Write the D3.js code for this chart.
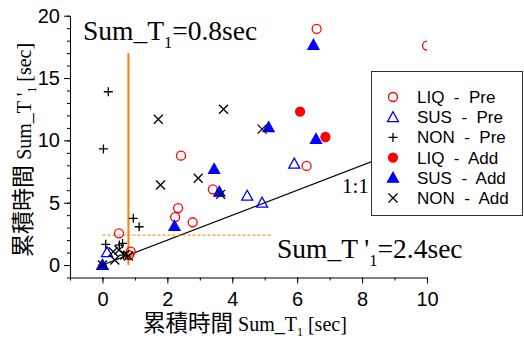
<!DOCTYPE html>
<html>
<head>
<meta charset="utf-8">
<script src="https://cdn.jsdelivr.net/npm/d3@7"></script>
<style>
  body { margin: 0; background: #fff; }
  svg { display: block; }
</style>
</head>
<body>
<div id="chart"></div>
<script>
// ===== data =====
const liqPre = [[6.60, 18.94], [10.0, 17.6], [2.42, 8.77], [3.40, 6.07], [2.33, 4.57],
                [2.24, 3.85], [2.78, 3.43], [6.29, 7.95], [0.51, 2.54], [0.87, 1.07], [0.82, 0.8]];
const susPre = [[5.91, 8.13], [4.46, 5.56], [4.92, 5.0], [0.14, 1.02], [0, 0]];
const nonPre = [[0.18, 13.9], [0.03, 9.31], [0.95, 3.75], [1.13, 3.07], [0.10, 1.66],
                [0.52, 1.6], [0.62, 1.74], [0.65, 0.8], [0, 0]];
const liqAdd = [[6.09, 12.31], [6.87, 10.27]];
const susAdd = [[6.50, 17.66], [5.12, 11.05], [6.58, 10.11], [3.44, 7.70], [3.60, 5.88],
                [2.22, 3.13], [0, 0]];
const nonAdd = [[1.72, 11.69], [3.73, 12.5], [2.95, 6.96], [1.79, 6.42], [3.64, 5.67],
                [4.92, 10.9], [0.38, 0.4], [0.51, 1.2], [0.69, 0.8], [0.8, 0.72], [0.33, 1.07], [0, 0]];

const xTicks = [0, 2, 4, 6, 8, 10];
const yTicks = [0, 5, 10, 15, 20];

const series = [
    {name: "LIQ  -  Pre", data: liqPre, shape: "circle", fill: "none", color: "#ff0000"},
    {name: "SUS  -  Pre", data: susPre, shape: "triangle", fill: "none", color: "#0000ff"},
    {name: "NON  -  Pre", data: nonPre, shape: "plus", fill: "none", color: "#000"},
    {name: "LIQ  -  Add", data: liqAdd, shape: "circle", fill: "#ff0000", color: "#ff0000"},
    {name: "SUS  -  Add", data: susAdd, shape: "triangle", fill: "#0000ff", color: "#0000ff"},
    {name: "NON  -  Add", data: nonAdd, shape: "cross", fill: "none", color: "#000"}
];

// ===== layout =====
const W = 524, H = 341;
const SERIF = "'Liberation Serif', 'Times New Roman', serif";
const SANS = "'Liberation Sans', Arial, sans-serif";
const CJK = "'Noto Sans CJK JP', 'Noto Sans CJK SC', sans-serif";

const svg = d3.select("#chart").append("svg")
    .attr("width", W)
    .attr("height", H);

const x = d3.scaleLinear().domain([-1, 10]).range([70, 427]);
const y = d3.scaleLinear().domain([-1, 20]).range([277.5, 15.7]);

svg.append("defs").append("clipPath")
    .attr("id", "plot-clip")
    .append("rect")
    .attr("x", x(-1)).attr("y", y(20))
    .attr("width", x(10) - x(-1)).attr("height", y(-1) - y(20));

// minor ticks
svg.append("g")
    .attr("transform", `translate(0,${y(-1)})`)
    .call(d3.axisBottom(x).tickValues(d3.range(-1, 11, 1)).tickSize(3).tickFormat(""))
    .call(g => g.select(".domain").remove());
svg.append("g")
    .attr("transform", `translate(${x(-1)},0)`)
    .call(d3.axisLeft(y).tickValues(d3.range(-1, 21, 1)).tickSize(3).tickFormat(""))
    .call(g => g.select(".domain").remove());

// major axes
const xAxis = svg.append("g")
    .attr("transform", `translate(0,${y(-1)})`)
    .call(d3.axisBottom(x).tickValues(xTicks).tickSize(6).tickSizeOuter(0).tickPadding(8));
const yAxis = svg.append("g")
    .attr("transform", `translate(${x(-1)},0)`)
    .call(d3.axisLeft(y).tickValues(yTicks).tickSize(6).tickSizeOuter(0).tickPadding(4));

[xAxis, yAxis].forEach(g => {
    g.selectAll("text").style("font-family", SANS).style("font-size", "20px").attr("fill", "#000");
});
svg.selectAll(".tick line, .domain").attr("stroke", "#000").attr("stroke-width", 1);

const plot = svg.append("g").attr("clip-path", "url(#plot-clip)");

// 1:1 line
plot.append("line")
    .attr("x1", x(0)).attr("y1", y(0))
    .attr("x2", x(10)).attr("y2", y(10))
    .attr("stroke", "#000").attr("stroke-width", 1.2);

// orange threshold lines
plot.append("line")
    .attr("x1", x(0.8)).attr("y1", y(0))
    .attr("x2", x(0.8)).attr("y2", y(17))
    .attr("stroke", "#ff7f00").attr("stroke-width", 2);
plot.append("line")
    .attr("x1", x(0)).attr("y1", y(2.4))
    .attr("x2", x(5.2)).attr("y2", y(2.4))
    .attr("stroke", "#ff7f00").attr("stroke-width", 1)
    .attr("stroke-dasharray", "3,2");

// markers
function drawMarker(g, s, cx, cy) {
    if (s.shape === "circle") {
        g.append("circle").attr("cx", cx).attr("cy", cy).attr("r", 4.5)
            .attr("fill", s.fill).attr("stroke", s.color).attr("stroke-width", 1.3);
    } else if (s.shape === "triangle") {
        const r = 5.5;
        g.append("path")
            .attr("d", `M${cx},${cy - r}L${cx + r},${cy + r * 0.8}L${cx - r},${cy + r * 0.8}Z`)
            .attr("fill", s.fill).attr("stroke", s.color).attr("stroke-width", 1.3);
    } else if (s.shape === "plus") {
        const r = 4.5;
        g.append("path")
            .attr("d", `M${cx - r},${cy}H${cx + r}M${cx},${cy - r}V${cy + r}`)
            .attr("stroke", s.color).attr("stroke-width", 1.3);
    } else {
        const r = 4.5;
        g.append("path")
            .attr("d", `M${cx - r},${cy - r}L${cx + r},${cy + r}M${cx - r},${cy + r}L${cx + r},${cy - r}`)
            .attr("stroke", s.color).attr("stroke-width", 1.3);
    }
}

series.forEach(s => {
    const g = plot.append("g");
    s.data.forEach(d => drawMarker(g, s, x(d[0]), y(d[1])));
});

// 1:1 label
svg.append("text")
    .attr("x", 342).attr("y", 193)
    .style("font-family", SERIF).style("font-size", "21px")
    .text("1:1");

// legend
const legend = svg.append("g");
legend.append("rect")
    .attr("x", 371.5).attr("y", 71.5)
    .attr("width", 151).attr("height", 144)
    .attr("fill", "#fff").attr("stroke", "#333").attr("stroke-width", 1);
series.forEach((s, i) => {
    const ly = 97 + i * 20.2;
    drawMarker(legend, s, 393, ly);
    legend.append("text")
        .attr("x", 417).attr("y", ly + 6)
        .style("font-family", SANS).style("font-size", "17px")
        .style("white-space", "pre")
        .text(s.name);
});

// annotations
function subLabel(tx, ty, pre, post, size) {
    const t = svg.append("text")
        .attr("x", tx).attr("y", ty)
        .style("font-family", SERIF).style("font-size", size + "px");
    t.append("tspan").text(pre);
    t.append("tspan").attr("dy", size * 0.3).style("font-size", (size * 0.6) + "px").text("1");
    t.append("tspan").attr("dy", -size * 0.3).text(post);
    return t;
}
subLabel(83, 40, "Sum_T", "=0.8sec", 27.5);
subLabel(277, 258, "Sum_T '", "=2.4sec", 27.5);

// axis titles
const xt = svg.append("text")
    .attr("x", 143).attr("y", 331);
xt.append("tspan").style("font-family", CJK).style("font-size", "22.5px").text("累積時間 ");
xt.append("tspan").style("font-family", SERIF).style("font-size", "20px").text("Sum_T");
xt.append("tspan").attr("dy", 5).style("font-family", SERIF).style("font-size", "12px").text("1");
xt.append("tspan").attr("dy", -5).style("font-family", SERIF).style("font-size", "20px").text(" [sec]");

const yt = svg.append("text")
    .attr("transform", "translate(31,257) rotate(-90)")
    .attr("x", 0).attr("y", 0);
yt.append("tspan").style("font-family", CJK).style("font-size", "23px").text("累積時間 ");
yt.append("tspan").style("font-family", SERIF).style("font-size", "20px").text("Sum_T '");
yt.append("tspan").attr("dy", 5).style("font-family", SERIF).style("font-size", "12px").text("1");
yt.append("tspan").attr("dy", -5).style("font-family", SERIF).style("font-size", "20px").text(" [sec]");
</script>
</body>
</html>
